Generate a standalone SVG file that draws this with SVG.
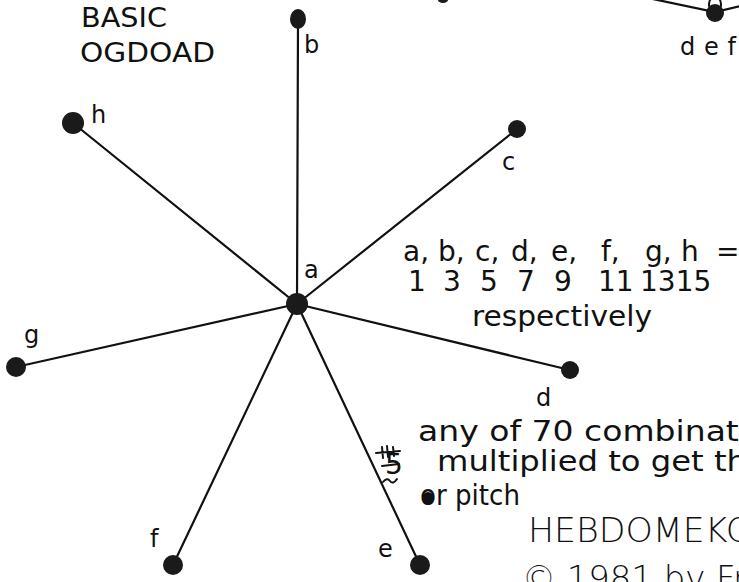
<svg xmlns="http://www.w3.org/2000/svg" width="739" height="582" viewBox="0 0 739 582">
<style>
.edge{stroke:#111;stroke-width:2.2;fill:none;stroke-linecap:round}
.dot{fill:#1a1a1a}
.lbl{font-family:"DejaVu Sans",sans-serif;font-size:24px;fill:#111}
.title{font-family:"DejaVu Sans",sans-serif;font-size:26px;fill:#111}
.hand{font-family:"DejaVu Sans",sans-serif;font-size:28px;fill:#111}
.stamp{font-family:"DejaVu Sans",sans-serif;font-size:34px;fill:#111;font-weight:300}
.mark{stroke:#111;stroke-width:2;fill:none;stroke-linecap:round}
</style>
<rect width="739" height="582" fill="#fff"/>
<g id="connectors">
<line class="edge" x1="297" y1="304" x2="298" y2="22"/>
<line class="edge" x1="297" y1="304" x2="73" y2="123"/>
<line class="edge" x1="297" y1="304" x2="517" y2="129"/>
<line class="edge" x1="297" y1="304" x2="16" y2="367"/>
<line class="edge" x1="297" y1="304" x2="570" y2="370"/>
<line class="edge" x1="297" y1="304" x2="173" y2="565"/>
<line class="edge" x1="297" y1="304" x2="420" y2="565"/>
<path class="edge" d="M648 -2 L715 12 L741 6"/>
</g>
<g id="title">
<text class="title" x="81" y="27" textLength="86" lengthAdjust="spacingAndGlyphs">BASIC</text>
<text class="title" x="80" y="62" textLength="135" lengthAdjust="spacingAndGlyphs">OGDOAD</text>
</g>
<g id="node-a"><circle class="dot" cx="297" cy="304" r="11"/><text class="lbl" x="304" y="278">a</text></g>
<g id="node-b"><ellipse class="dot" cx="298" cy="19" rx="8" ry="10"/><text class="lbl" x="304" y="53">b</text></g>
<g id="node-c"><circle class="dot" cx="517" cy="129" r="9"/><text class="lbl" x="502" y="170">c</text></g>
<g id="node-d"><circle class="dot" cx="570" cy="370" r="9"/><text class="lbl" x="536" y="406">d</text></g>
<g id="node-e"><circle class="dot" cx="420" cy="565" r="10"/><text class="lbl" x="378" y="557">e</text></g>
<g id="node-f"><circle class="dot" cx="173" cy="565" r="10"/><text class="lbl" x="150" y="547">f</text></g>
<g id="node-g"><circle class="dot" cx="16" cy="367" r="10" fill="#333"/><text class="lbl" x="24" y="343">g</text></g>
<g id="node-h"><circle class="dot" cx="73" cy="123" r="11"/><text class="lbl" x="91" y="123">h</text></g>
<g id="node-def">
<circle class="dot" cx="715" cy="13" r="9"/>
<path class="mark" d="M709 6 Q709 0 711 -1 M721 6 Q721 0 719 -1"/>
<text class="lbl" x="680" y="55" textLength="56" lengthAdjust="spacing">def</text>
</g>
<ellipse class="dot" cx="443" cy="0" rx="5" ry="3"/>
<g id="legend">
<text class="hand" y="261"><tspan x="403">a,</tspan><tspan x="438">b,</tspan><tspan x="475">c,</tspan><tspan x="511">d,</tspan><tspan x="551">e,</tspan><tspan x="601">f,</tspan><tspan x="645">g,</tspan><tspan x="681">h</tspan><tspan x="716">=</tspan></text>
<text class="hand" y="291" font-size="24"><tspan x="408">1</tspan><tspan x="443">3</tspan><tspan x="480">5</tspan><tspan x="517">7</tspan><tspan x="554">9</tspan><tspan x="598">11</tspan><tspan x="640">1315</tspan></text>
<text class="hand" x="472" y="326" font-size="26" textLength="180" lengthAdjust="spacingAndGlyphs">respectively</text>
</g>
<g id="note">
<text class="hand" x="418" y="441" font-size="30" textLength="330" lengthAdjust="spacingAndGlyphs">any of 70 combinati</text>
<text class="hand" x="437" y="471" font-size="29" textLength="310" lengthAdjust="spacingAndGlyphs">multiplied to get th</text>
<text class="hand" x="420" y="505" font-size="26" textLength="100" lengthAdjust="spacingAndGlyphs">or pitch</text>
<path class="mark" d="M376 453 L400 451 M382 447 L383 458 M387 446 L388 457 M393 447 L394 456"/>
<text class="hand" x="385" y="474" font-size="17">5</text>
<path class="mark" d="M382 466 L399 464"/>
<path class="mark" d="M383 482 Q387 477 390 481 T397 479"/>
<circle cx="428" cy="498" r="6" fill="#111"/>
</g>
<g id="credit">
<text class="stamp" x="528" y="542" textLength="225" lengthAdjust="spacingAndGlyphs">HEBDOMEKO</text>
<text class="stamp" x="522" y="590" textLength="225" lengthAdjust="spacingAndGlyphs">© 1981 by Fr</text>
</g>
</svg>
